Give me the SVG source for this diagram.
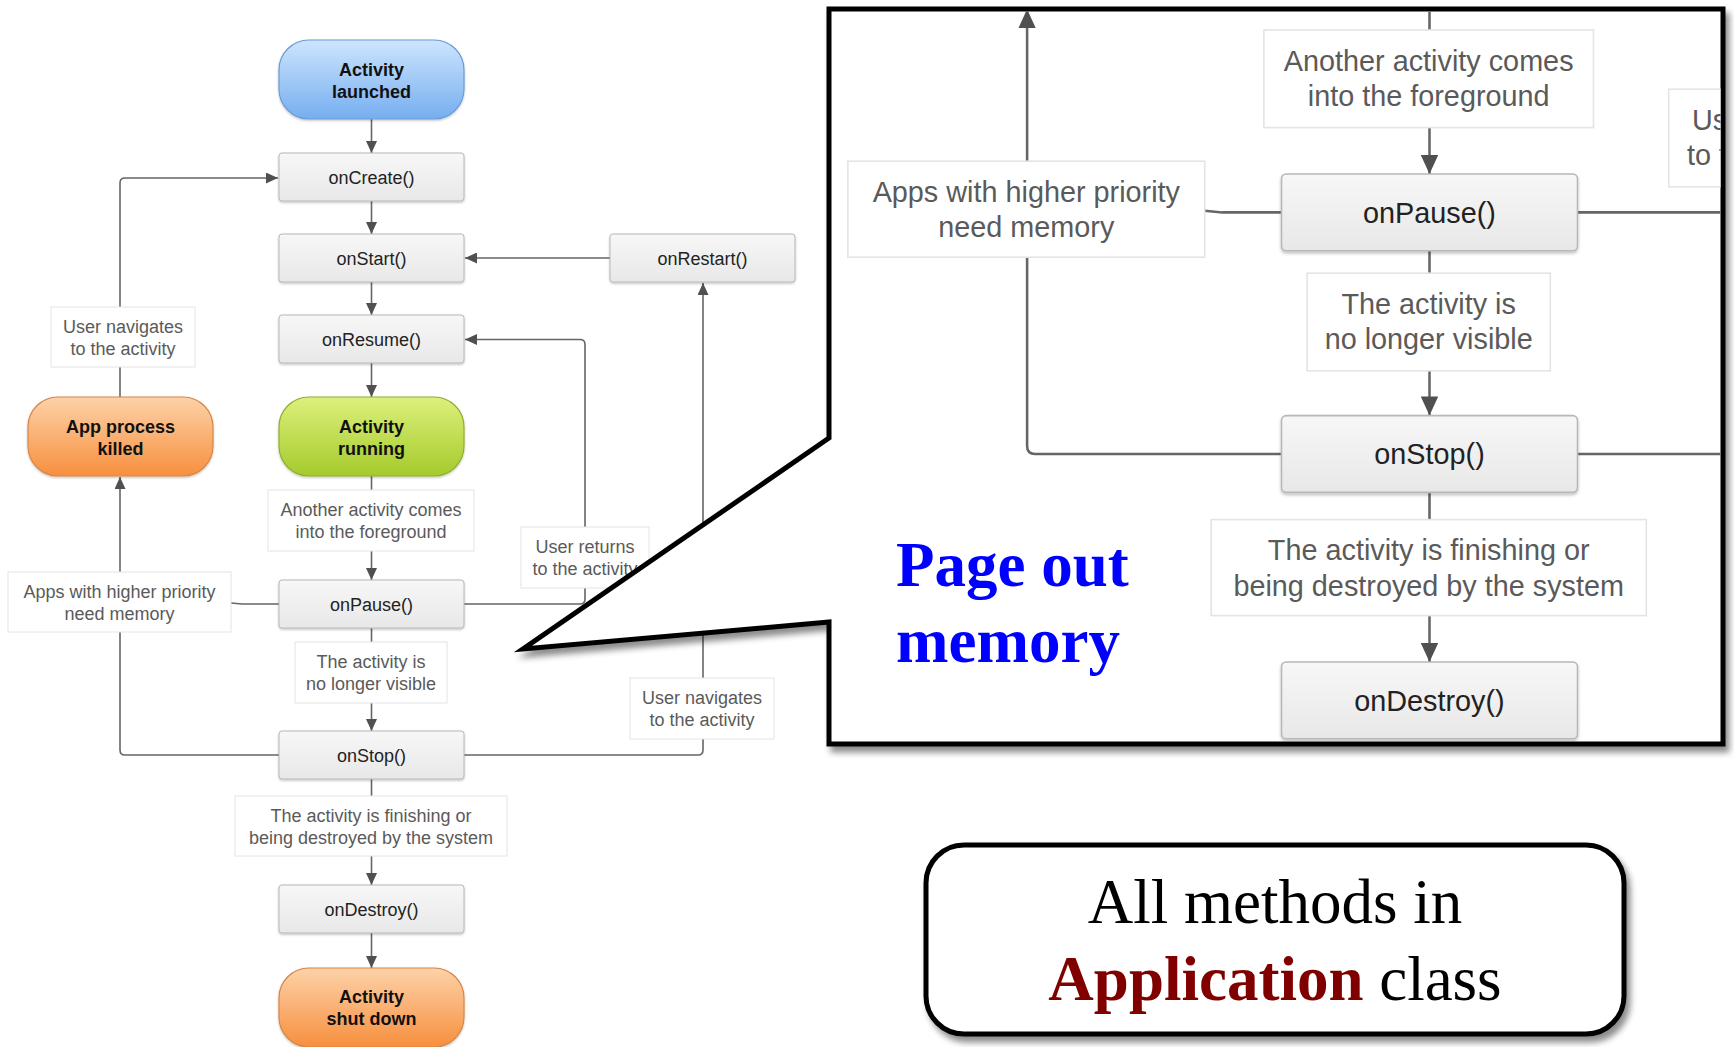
<svg xmlns="http://www.w3.org/2000/svg" width="1734" height="1047" viewBox="0 0 1734 1047">
<defs>
<linearGradient id="gBox" x1="0" y1="0" x2="0" y2="1"><stop offset="0" stop-color="#f7f7f7"/><stop offset="1" stop-color="#e8e8e8"/></linearGradient>
<linearGradient id="gBlue" x1="0" y1="0" x2="0" y2="1"><stop offset="0" stop-color="#cde5fd"/><stop offset="1" stop-color="#76aef0"/></linearGradient>
<linearGradient id="gGreen" x1="0" y1="0" x2="0" y2="1"><stop offset="0" stop-color="#dcf07c"/><stop offset="1" stop-color="#a4cb2b"/></linearGradient>
<linearGradient id="gOrange" x1="0" y1="0" x2="0" y2="1"><stop offset="0" stop-color="#fdd2a8"/><stop offset="1" stop-color="#f78f3e"/></linearGradient>
<filter id="sh" x="-10%" y="-10%" width="130%" height="140%"><feDropShadow dx="0" dy="1.2" stdDeviation="1" flood-color="#000" flood-opacity="0.25"/></filter>
<filter id="bigsh" x="-5%" y="-5%" width="115%" height="115%"><feDropShadow dx="4" dy="6" stdDeviation="3" flood-color="#000" flood-opacity="0.45"/></filter>
<marker id="arr" markerUnits="userSpaceOnUse" markerWidth="12" markerHeight="11" refX="12" refY="5.5" orient="auto"><path d="M0,0 L12,5.5 L0,11 z" fill="#505050"/></marker>
<clipPath id="zclip"><rect x="831.5" y="11.5" width="889" height="730"/></clipPath>
<style>
.box{fill:url(#gBox);stroke:#b8b8b8;stroke-width:1;filter:url(#sh)}
.lbox{fill:#ffffff;stroke:#e4e4e4;stroke-width:1}
.mt{font-family:"Liberation Sans",Arial,sans-serif;font-size:18px;fill:#222;text-anchor:middle}
.pt{font-family:"Liberation Sans",Arial,sans-serif;font-size:18px;font-weight:bold;fill:#111;text-anchor:middle}
.lb{font-family:"Liberation Sans",Arial,sans-serif;font-size:18px;fill:#5a5a5a;text-anchor:middle}
.ln{fill:none;stroke:#666;stroke-width:1.6}
.blue{fill:url(#gBlue);stroke:#6c9bd6;stroke-width:1.2;filter:url(#sh)}
.green{fill:url(#gGreen);stroke:#8fb030;stroke-width:1.2;filter:url(#sh)}
.orange{fill:url(#gOrange);stroke:#d5874a;stroke-width:1.2;filter:url(#sh)}
.tnr{font-family:"Liberation Serif","Times New Roman",serif;font-size:63px}
</style>
</defs>
<rect x="0" y="0" width="1734" height="1047" fill="#ffffff"/>

<!-- connectors -->
<g id="connectors">
<path class="ln" d="M371.5,119 V153" marker-end="url(#arr)"/>
<path class="ln" d="M371.5,201 V234" marker-end="url(#arr)"/>
<path class="ln" d="M371.5,282 V315" marker-end="url(#arr)"/>
<path class="ln" d="M371.5,363 V397" marker-end="url(#arr)"/>
<path class="ln" d="M371.5,476 V580" marker-end="url(#arr)"/>
<path class="ln" d="M371.5,628 V731" marker-end="url(#arr)"/>
<path class="ln" d="M371.5,779 V885" marker-end="url(#arr)"/>
<path class="ln" d="M371.5,933 V968" marker-end="url(#arr)"/>
<path class="ln" d="M610,258 H465" marker-end="url(#arr)"/>
<path class="ln" d="M464,604 H580 Q585,604 585,599 V344.5 Q585,339.5 580,339.5 H465" marker-end="url(#arr)"/>
<path class="ln" d="M464,755 H698 Q703,755 703,750 V283" marker-end="url(#arr)"/>
<path class="ln" d="M279,755 H125 Q120,755 120,750 V477" marker-end="url(#arr)"/>
<path class="ln" d="M279,604 H242 L231,603"/>
<path class="ln" d="M120,397 V183 Q120,178 125,178 H278" marker-end="url(#arr)"/>
</g>

<!-- nodes -->
<g id="activity-launched"><rect class="blue" x="279" y="40" width="185" height="79" rx="30"/><text class="pt" x="371.5" y="76">Activity</text><text class="pt" x="371.5" y="98">launched</text></g>
<g id="onCreate"><rect class="box" x="279" y="153" width="185" height="48" rx="3"/><text class="mt" x="371.5" y="183.5">onCreate()</text></g>
<g id="onStart"><rect class="box" x="279" y="234" width="185" height="48" rx="3"/><text class="mt" x="371.5" y="264.5">onStart()</text></g>
<g id="onRestart"><rect class="box" x="610" y="234" width="185" height="48" rx="3"/><text class="mt" x="702.5" y="264.5">onRestart()</text></g>
<g id="onResume"><rect class="box" x="279" y="315" width="185" height="48" rx="3"/><text class="mt" x="371.5" y="345.5">onResume()</text></g>
<g id="activity-running"><rect class="green" x="279" y="397" width="185" height="79" rx="30"/><text class="pt" x="371.5" y="433">Activity</text><text class="pt" x="371.5" y="455">running</text></g>
<g id="app-process-killed"><rect class="orange" x="28" y="397" width="185" height="79" rx="30"/><text class="pt" x="120.5" y="433">App process</text><text class="pt" x="120.5" y="455">killed</text></g>
<g id="onPause"><rect class="box" x="279" y="580" width="185" height="48" rx="3"/><text class="mt" x="371.5" y="610.5">onPause()</text></g>
<g id="onStop"><rect class="box" x="279" y="731" width="185" height="48" rx="3"/><text class="mt" x="371.5" y="761.5">onStop()</text></g>
<g id="onDestroy"><rect class="box" x="279" y="885" width="185" height="48" rx="3"/><text class="mt" x="371.5" y="915.5">onDestroy()</text></g>
<g id="activity-shut-down"><rect class="orange" x="279" y="968" width="185" height="79" rx="30"/><text class="pt" x="371.5" y="1003">Activity</text><text class="pt" x="371.5" y="1025">shut down</text></g>

<!-- labels -->
<g id="lbl-user-navigates-left"><rect class="lbox" x="51" y="307" width="144" height="60"/><text class="lb" x="123" y="332.5">User navigates</text><text class="lb" x="123" y="354.5">to the activity</text></g>
<g id="lbl-another-activity"><rect class="lbox" x="268" y="490" width="206" height="61"/><text class="lb" x="371" y="515.5">Another activity comes</text><text class="lb" x="371" y="537.5">into the foreground</text></g>
<g id="lbl-user-returns"><rect class="lbox" x="521" y="527" width="128" height="61"/><text class="lb" x="585" y="552.5">User returns</text><text class="lb" x="585" y="574.5">to the activity</text></g>
<g id="lbl-apps-priority"><rect class="lbox" x="8" y="572" width="223" height="60"/><text class="lb" x="119.5" y="597.5">Apps with higher priority</text><text class="lb" x="119.5" y="619.5">need memory</text></g>
<g id="lbl-no-longer-visible"><rect class="lbox" x="295" y="642" width="152" height="61"/><text class="lb" x="371" y="667.5">The activity is</text><text class="lb" x="371" y="689.5">no longer visible</text></g>
<g id="lbl-user-navigates-right"><rect class="lbox" x="630" y="678" width="144" height="61"/><text class="lb" x="702" y="703.5">User navigates</text><text class="lb" x="702" y="725.5">to the activity</text></g>
<g id="lbl-finishing"><rect class="lbox" x="235" y="796" width="272" height="60"/><text class="lb" x="371" y="821.5">The activity is finishing or</text><text class="lb" x="371" y="843.5">being destroyed by the system</text></g>

<!-- callout -->
<g id="callout">
<polygon points="829,9 1723,9 1723,744 829,744 829,622 523,649 829,438" fill="#ffffff" stroke="#000" stroke-width="5" stroke-linejoin="miter" filter="url(#bigsh)"/>
<g clip-path="url(#zclip)">
<g transform="matrix(1.6 0 0 1.6 835.1 -754)">
<g id="z-connectors">
<path class="ln" d="M371.5,476 V580" marker-end="url(#arr)"/>
<path class="ln" d="M371.5,628 V731" marker-end="url(#arr)"/>
<path class="ln" d="M371.5,779 V885" marker-end="url(#arr)"/>
<path class="ln" d="M464,604 H580 Q585,604 585,599 V344.5"/>
<path class="ln" d="M464,755 H698 Q703,755 703,750 V283"/>
<path class="ln" d="M279,755 H125 Q120,755 120,750 V477" marker-end="url(#arr)"/>
<path class="ln" d="M279,604 H242 L231,603"/>
</g>
<g id="z-onPause"><rect class="box" x="279" y="580" width="185" height="48" rx="3"/><text class="mt" x="371.5" y="610.5">onPause()</text></g>
<g id="z-onStop"><rect class="box" x="279" y="731" width="185" height="48" rx="3"/><text class="mt" x="371.5" y="761.5">onStop()</text></g>
<g id="z-onDestroy"><rect class="box" x="279" y="885" width="185" height="48" rx="3"/><text class="mt" x="371.5" y="915.5">onDestroy()</text></g>
<g id="z-lbl-another-activity"><rect class="lbox" x="268" y="490" width="206" height="61"/><text class="lb" x="371" y="515.5">Another activity comes</text><text class="lb" x="371" y="537.5">into the foreground</text></g>
<g id="z-lbl-user-returns"><rect class="lbox" x="521" y="527" width="128" height="61"/><text class="lb" x="585" y="552.5">User returns</text><text class="lb" x="585" y="574.5">to the activity</text></g>
<g id="z-lbl-apps-priority"><rect class="lbox" x="8" y="572" width="223" height="60"/><text class="lb" x="119.5" y="597.5">Apps with higher priority</text><text class="lb" x="119.5" y="619.5">need memory</text></g>
<g id="z-lbl-no-longer-visible"><rect class="lbox" x="295" y="642" width="152" height="61"/><text class="lb" x="371" y="667.5">The activity is</text><text class="lb" x="371" y="689.5">no longer visible</text></g>
<g id="z-lbl-finishing"><rect class="lbox" x="235" y="796" width="272" height="60"/><text class="lb" x="371" y="821.5">The activity is finishing or</text><text class="lb" x="371" y="843.5">being destroyed by the system</text></g>
</g>
</g>
<text class="tnr" x="896" y="586" font-weight="bold" fill="#0000ff">Page out</text>
<text class="tnr" x="896" y="662" font-weight="bold" fill="#0000ff">memory</text>
</g>

<!-- application note -->
<g id="application-note">
<rect x="926" y="845" width="698" height="189" rx="38" fill="#ffffff" stroke="#000" stroke-width="5" filter="url(#bigsh)"/>
<text class="tnr" x="1275" y="923" text-anchor="middle" fill="#000">All methods in</text>
<text class="tnr" x="1275" y="1000" text-anchor="middle"><tspan font-weight="bold" fill="#800000">Application</tspan><tspan fill="#000"> class</tspan></text>
</g>
</svg>
